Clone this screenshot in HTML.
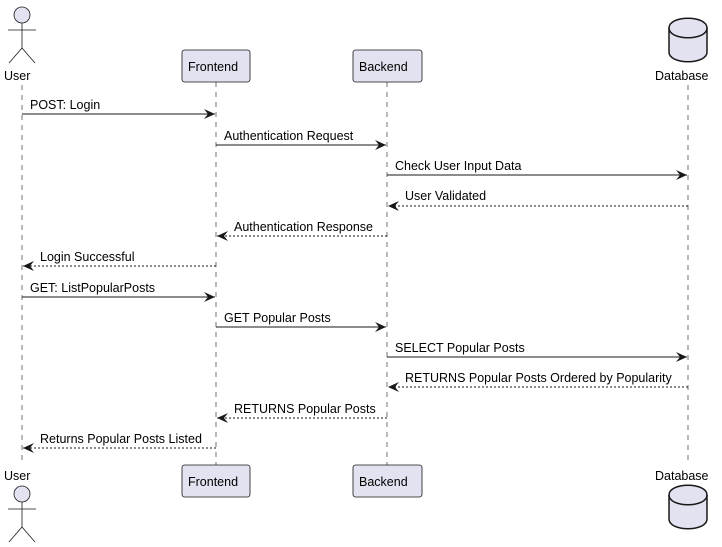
<!DOCTYPE html>
<html><head><meta charset="utf-8"><style>
html,body{margin:0;padding:0;background:#fff;}
svg{display:block;}
text{font-family:"Liberation Sans",sans-serif;font-size:12.5px;fill:#000;}
</style></head><body>
<svg width="722" height="547" viewBox="0 0 722 547" xmlns="http://www.w3.org/2000/svg">
<defs>
<marker id="a" markerWidth="12" markerHeight="10" refX="11" refY="5" orient="auto" markerUnits="userSpaceOnUse">
<path d="M0,0 L11,5 L0,10 L4,5 Z" fill="#181818"/>
</marker>
</defs>
<g stroke="#181818" stroke-width="0.6" stroke-dasharray="5,5" fill="none">
<line x1="22" y1="85" x2="22" y2="465"/>
<line x1="216" y1="82" x2="216" y2="465"/>
<line x1="387" y1="82" x2="387" y2="465"/>
<line x1="688" y1="85" x2="688" y2="465"/>
</g>
<g stroke="#181818" stroke-width="0.8" fill="#E2E2F0">
<circle cx="22" cy="15" r="8"/>
<line x1="22" y1="23" x2="22" y2="48"/>
<line x1="8" y1="30" x2="36" y2="30"/>
<line x1="22" y1="48" x2="9" y2="63"/>
<line x1="22" y1="48" x2="35" y2="63"/>
<rect x="182" y="50" width="68" height="32" rx="2.5"/>
<rect x="353" y="50" width="69" height="32" rx="2.5"/>
</g>
<g stroke="#181818" stroke-width="1.5" fill="#E2E2F0">
<path d="M669,28 C669,15 707,15 707,28 L707,52 C707,65 669,65 669,52 Z"/>
<path d="M669,28 C669,41 707,41 707,28" fill="none"/>
</g>
<text x="4" y="80">User</text>
<text x="188" y="71">Frontend</text>
<text x="359" y="71">Backend</text>
<text x="655" y="80">Database</text>
<g stroke="#181818" stroke-width="0.8" fill="#E2E2F0">
<circle cx="22" cy="494" r="8"/>
<line x1="22" y1="502" x2="22" y2="527"/>
<line x1="8" y1="509" x2="36" y2="509"/>
<line x1="22" y1="527" x2="9" y2="542"/>
<line x1="22" y1="527" x2="35" y2="542"/>
<rect x="182" y="465" width="68" height="32" rx="2.5"/>
<rect x="353" y="465" width="69" height="32" rx="2.5"/>
</g>
<g stroke="#181818" stroke-width="1.5" fill="#E2E2F0">
<path d="M669,495 C669,482 707,482 707,495 L707,519 C707,532 669,532 669,519 Z"/>
<path d="M669,495 C669,508 707,508 707,495" fill="none"/>
</g>
<text x="4" y="480">User</text>
<text x="188" y="486">Frontend</text>
<text x="359" y="486">Backend</text>
<text x="655" y="480">Database</text>
<g stroke="#181818" stroke-width="1" fill="none">
<line x1="22" y1="114" x2="215" y2="114" marker-end="url(#a)"/>
<line x1="216" y1="145" x2="386" y2="145" marker-end="url(#a)"/>
<line x1="387" y1="175" x2="687" y2="175" marker-end="url(#a)"/>
<line x1="688" y1="206" x2="388" y2="206" stroke-dasharray="2,2" marker-end="url(#a)"/>
<line x1="387" y1="236" x2="217" y2="236" stroke-dasharray="2,2" marker-end="url(#a)"/>
<line x1="216" y1="266" x2="23" y2="266" stroke-dasharray="2,2" marker-end="url(#a)"/>
<line x1="22" y1="297" x2="215" y2="297" marker-end="url(#a)"/>
<line x1="216" y1="327" x2="386" y2="327" marker-end="url(#a)"/>
<line x1="387" y1="357" x2="687" y2="357" marker-end="url(#a)"/>
<line x1="688" y1="387" x2="388" y2="387" stroke-dasharray="2,2" marker-end="url(#a)"/>
<line x1="387" y1="418" x2="217" y2="418" stroke-dasharray="2,2" marker-end="url(#a)"/>
<line x1="216" y1="448" x2="23" y2="448" stroke-dasharray="2,2" marker-end="url(#a)"/>
</g>
<text x="30" y="109">POST: Login</text>
<text x="224" y="140">Authentication Request</text>
<text x="395" y="170">Check User Input Data</text>
<text x="405" y="200">User Validated</text>
<text x="234" y="231">Authentication Response</text>
<text x="40" y="261">Login Successful</text>
<text x="30" y="292">GET: ListPopularPosts</text>
<text x="224" y="322">GET Popular Posts</text>
<text x="395" y="352">SELECT Popular Posts</text>
<text x="405" y="382">RETURNS Popular Posts Ordered by Popularity</text>
<text x="234" y="413">RETURNS Popular Posts</text>
<text x="40" y="443">Returns Popular Posts Listed</text>
</svg>
</body></html>
